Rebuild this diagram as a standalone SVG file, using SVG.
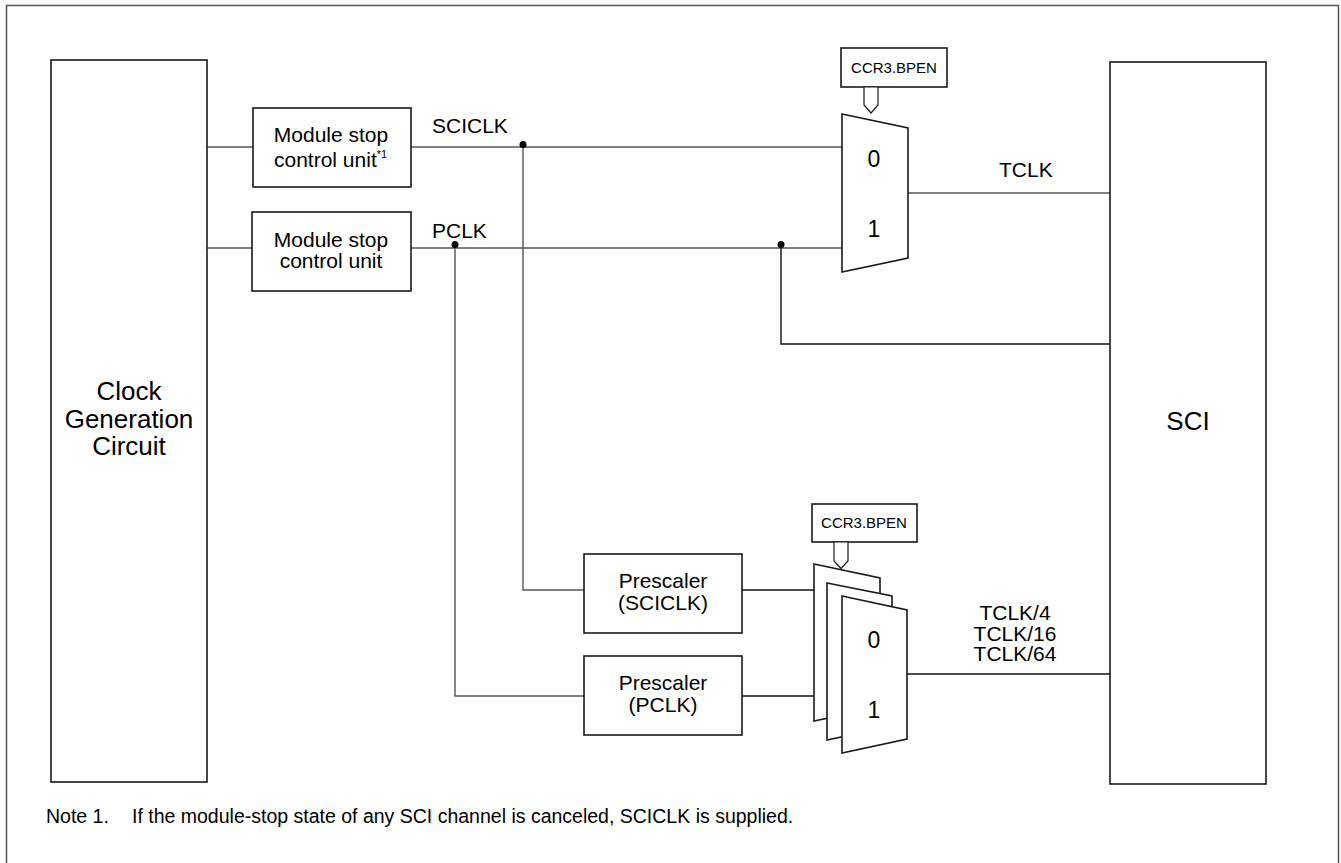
<svg xmlns="http://www.w3.org/2000/svg" width="1341" height="863" viewBox="0 0 1341 863">
<style>
.box{fill:#fff;stroke:#1a1a1a;stroke-width:1.6}
.frame{fill:none;stroke:#555;stroke-width:1.5}
.wire{fill:none;stroke:#555;stroke-width:1.4}
.wk{fill:none;stroke:#111;stroke-width:1.4}
.dot{fill:#000}
text{font-family:"Liberation Sans",Arial,sans-serif;fill:#000}
.t21{font-size:21px}
.t26{font-size:26px}
.t15{font-size:15px}
.t23{font-size:23px}
.mid{text-anchor:middle}
</style>
<rect class="frame" x="6.5" y="5.5" width="1332" height="880"/>

<g id="connectors">
  <line class="wire" x1="207" y1="147" x2="253" y2="147"/>
  <line class="wire" x1="207" y1="248" x2="252" y2="248"/>
  <line class="wire" x1="411" y1="147" x2="842" y2="147"/>
  <line class="wire" x1="411" y1="248" x2="842" y2="248"/>
  <polyline class="wire" points="523,147 523,590 584,590"/>
  <polyline class="wire" points="455,248 455,696 584,696"/>
  <polyline class="wk" points="781,248 781,344 1110,344"/>
  <line class="wire" x1="908" y1="193" x2="1110" y2="193"/>
  <line class="wk" x1="742" y1="590" x2="814" y2="590"/>
  <line class="wk" x1="742" y1="696" x2="814" y2="696"/>
  <line class="wk" x1="907" y1="674" x2="1110" y2="674"/>
  <circle class="dot" cx="523" cy="144.5" r="3.5"/>
  <circle class="dot" cx="455" cy="244.5" r="3.5"/>
  <circle class="dot" cx="781" cy="244.5" r="3.5"/>
  <text class="t21" x="432" y="133">SCICLK</text>
  <text class="t21" x="432" y="238">PCLK</text>
  <text class="t21" x="999" y="177">TCLK</text>
  <text class="t21 mid" x="1015" y="620">TCLK/4</text>
  <text class="t21 mid" x="1015" y="640.5">TCLK/16</text>
  <text class="t21 mid" x="1015" y="661">TCLK/64</text>
</g>

<g id="clock-gen">
  <rect class="box" x="51" y="60" width="156" height="722"/>
  <text class="t26 mid" x="129" y="400">Clock</text>
  <text class="t26 mid" x="129" y="427.5">Generation</text>
  <text class="t26 mid" x="129" y="455">Circuit</text>
</g>

<g id="msc1">
  <rect class="box" x="253" y="108" width="158" height="79"/>
  <text class="t21 mid" x="331" y="142">Module stop</text>
  <text class="t21" x="274" y="167">control unit<tspan font-size="11" dy="-9">*1</tspan></text>
</g>

<g id="msc2">
  <rect class="box" x="252" y="212" width="159" height="79"/>
  <text class="t21 mid" x="331" y="247">Module stop</text>
  <text class="t21 mid" x="331" y="268">control unit</text>
</g>

<g id="ccr-top">
  <rect class="box" x="841" y="48" width="106" height="39"/>
  <text class="t15 mid" x="894" y="73">CCR3.BPEN</text>
  <polygon class="box" points="864,87 864,105 871,113 878,105 878,87" style="stroke-width:1.2"/>
</g>

<g id="mux-top">
  <polygon class="box" points="842,114 908,128 908,258 842,272"/>
  <text class="t23 mid" x="874" y="166.5">0</text>
  <text class="t23 mid" x="874" y="236.5">1</text>
</g>

<g id="presc-sciclk">
  <rect class="box" x="584" y="554" width="158" height="79"/>
  <text class="t21 mid" x="663" y="588">Prescaler</text>
  <text class="t21 mid" x="663" y="610">(SCICLK)</text>
</g>

<g id="presc-pclk">
  <rect class="box" x="584" y="656" width="158" height="79"/>
  <text class="t21 mid" x="663" y="690">Prescaler</text>
  <text class="t21 mid" x="663" y="712">(PCLK)</text>
</g>

<g id="ccr-bottom">
  <rect class="box" x="812" y="504" width="105" height="38"/>
  <text class="t15 mid" x="864" y="528">CCR3.BPEN</text>
  <polygon class="box" points="834,542 834,561 841,568.5 848,561 848,542" style="stroke-width:1.2"/>
</g>

<g id="mux-stack">
  <polygon class="box" points="814,564 880,578 880,707 814,721"/>
  <polygon class="box" points="827,583 892,596 892,726 827,740"/>
  <polygon class="box" points="842,596 907,610 907,739 842,753"/>
  <text class="t23 mid" x="874" y="647.5">0</text>
  <text class="t23 mid" x="874" y="718">1</text>
</g>

<g id="sci">
  <rect class="box" x="1110" y="62" width="156" height="722"/>
  <text class="t26 mid" x="1188" y="430">SCI</text>
</g>

<g id="note">
  <text font-size="19.5" x="46" y="823">Note 1.</text>
  <text font-size="19.5" x="132" y="823">If the module-stop state of any SCI channel is canceled, SCICLK is supplied.</text>
</g>
</svg>
